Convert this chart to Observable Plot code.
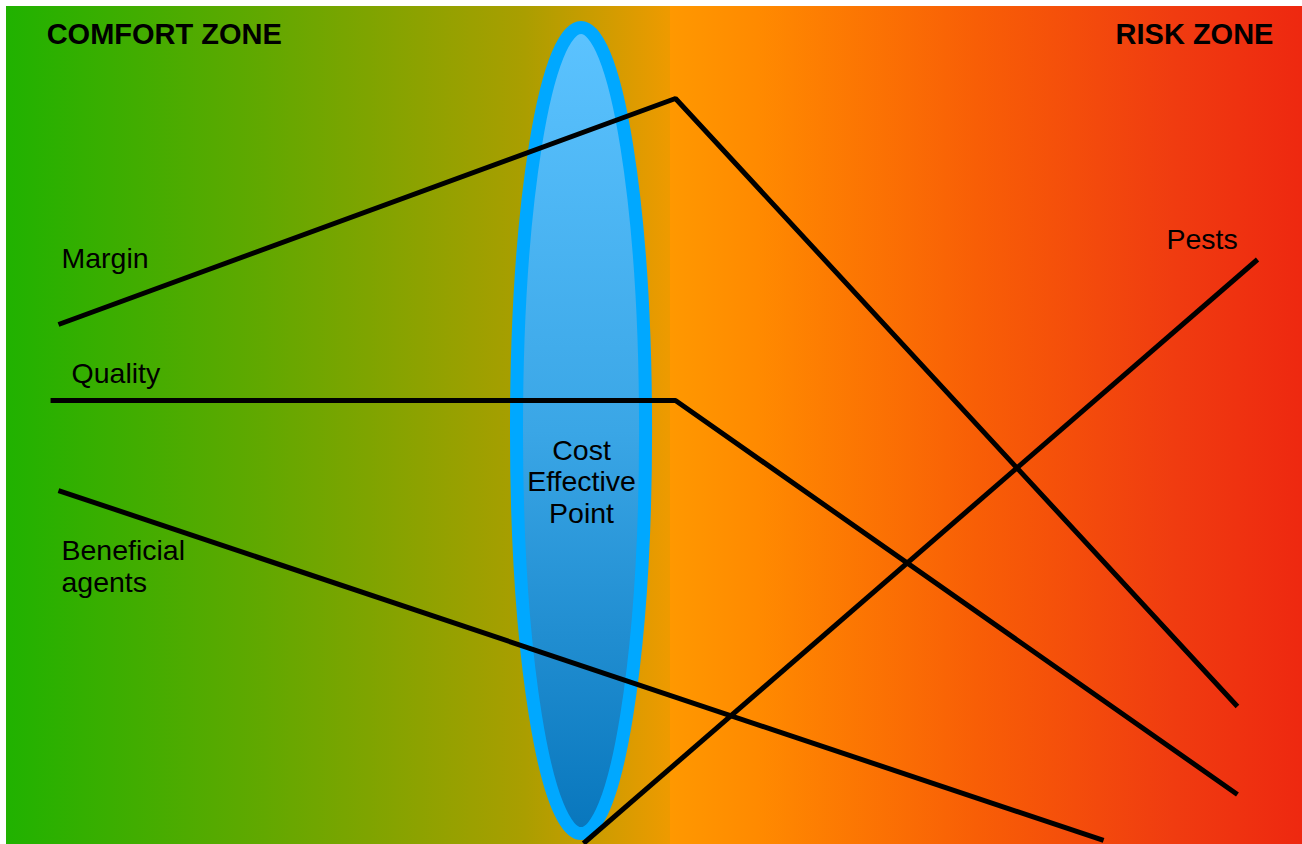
<!DOCTYPE html>
<html>
<head>
<meta charset="utf-8">
<script src="https://cdn.jsdelivr.net/npm/d3@7"></script>
<script src="https://cdn.jsdelivr.net/npm/@observablehq/plot@0.6"></script>
<style>
  html, body { margin: 0; padding: 0; background: #ffffff; }
  #chart svg { display: block; }
</style>
</head>
<body>
<div id="chart"></div>
<script>
// ---- Data (abstract units: x 0 = comfort … 100 = risk, y 0 … 100) ----
const zoneLabels = ["COMFORT ZONE", "RISK ZONE"];
const zoneLabelX = [3.1, 97.76];
const zoneLabelY = [95.47, 95.47];

const seriesNames = ["Margin", "Quality", "Beneficial agents", "Pests"];
const marginX = [4.01, 51.62, 94.98];
const marginY = [62.05, 89.02, 16.47];
const qualityX = [3.40, 51.62, 94.98];
const qualityY = [52.98, 52.98, 5.97];
const beneficialX = [4.01, 84.65];
const beneficialY = [42.24, 0.48];
const pestsX = [44.52, 96.53];
const pestsY = [0.12, 69.81];

const seriesLabels = ["Margin", "Quality", "Beneficial\nagents", "Pests"];
const seriesLabelX = [4.24, 5.02, 4.24, 89.5];
const seriesLabelY = [68.74, 55.13, 30.19, 71.12];

const pointLabel = "Cost\nEffective\nPoint";
const pointCenterX = 44.37;
const pointCenterY = 49.34;
const pointRadiusX = 4.98;
const pointRadiusY = 48.1;
const pointLabelY = 38.42;

// background gradient stops (position along x, colour)
const bgStopX = [0, 20, 40, 51.2, 51.2, 58, 75, 90, 100];
const bgStopColor = ["#20b200", "#62a800", "#aa9e00", "#ee9a00", "#ff9800", "#ff8a00", "#f85e06", "#f03c10", "#ee2810"];
// ellipse fill stops (top → bottom)
const ellipseStopColor = ["#5cc3ff", "#3aa6e6", "#0876bc"];

// ---- Build ----
const lineData = [
  ...marginX.map((x, i) => ({series: "Margin", x, y: marginY[i]})),
  ...qualityX.map((x, i) => ({series: "Quality", x, y: qualityY[i]})),
  ...beneficialX.map((x, i) => ({series: "Beneficial agents", x, y: beneficialY[i]})),
  ...pestsX.map((x, i) => ({series: "Pests", x, y: pestsY[i]}))
];
const labelData = seriesLabels.map((t, i) => ({t, x: seriesLabelX[i], y: seriesLabelY[i]}));
const zoneData = zoneLabels.map((t, i) => ({t, x: zoneLabelX[i], y: zoneLabelY[i], anchor: i === 0 ? "start" : "end"}));

const FONT = "'Liberation Sans', Arial, Helvetica, sans-serif";

function defsMark(index, scales) {
  const defs = d3.create("svg:defs");
  const bg = defs.append("linearGradient")
    .attr("id", "bgGrad")
    .attr("gradientUnits", "userSpaceOnUse")
    .attr("x1", scales.x(0)).attr("x2", scales.x(100))
    .attr("y1", 0).attr("y2", 0);
  bgStopX.forEach((p, i) => bg.append("stop").attr("offset", p + "%").attr("stop-color", bgStopColor[i]));
  const el = defs.append("linearGradient")
    .attr("id", "ellGrad")
    .attr("x1", 0).attr("x2", 0).attr("y1", 0).attr("y2", 1);
  ellipseStopColor.forEach((c, i) => el.append("stop").attr("offset", (i / (ellipseStopColor.length - 1) * 100) + "%").attr("stop-color", c));
  return defs.node();
}

function ellipseMark(index, scales) {
  const cx = scales.x(pointCenterX);
  const cy = scales.y(pointCenterY);
  const rx = Math.abs(scales.x(pointCenterX + pointRadiusX) - cx);
  const ry = Math.abs(scales.y(pointCenterY + pointRadiusY) - cy);
  const g = d3.create("svg:g");
  g.append("ellipse")
    .attr("cx", cx).attr("cy", cy).attr("rx", rx).attr("ry", ry)
    .attr("fill", "url(#ellGrad)")
    .attr("stroke", "#00a8ff")
    .attr("stroke-width", 13);
  return g.node();
}

const chart = Plot.plot({
  width: 1302,
  height: 844,
  margin: 0,
  style: {background: "transparent", fontFamily: FONT},
  x: {domain: [0, 100], range: [6, 1302], axis: null},
  y: {domain: [0, 100], range: [844, 6], axis: null},
  marks: [
    defsMark,
    Plot.rect([{x1: 0, x2: 100, y1: 0, y2: 100}], {x1: "x1", x2: "x2", y1: "y1", y2: "y2", fill: "url(#bgGrad)"}),
    ellipseMark,
    Plot.line(lineData, {x: "x", y: "y", z: "series", stroke: "#000", strokeWidth: 5, strokeLinejoin: "miter", strokeLinecap: "butt"}),
    Plot.text(labelData, {x: "x", y: "y", text: "t", textAnchor: "start", lineAnchor: "bottom", lineHeight: 1.09, fontSize: 28.5, fill: "#000", fontFamily: FONT}),
    Plot.text(zoneData.filter(d => d.anchor === "start"), {x: "x", y: "y", text: "t", textAnchor: "start", lineAnchor: "bottom", fontSize: 29, fontWeight: "bold", fill: "#000", fontFamily: FONT}),
    Plot.text(zoneData.filter(d => d.anchor === "end"), {x: "x", y: "y", text: "t", textAnchor: "end", lineAnchor: "bottom", fontSize: 29, fontWeight: "bold", fill: "#000", fontFamily: FONT}),
    Plot.text([{t: pointLabel, x: pointCenterX, y: pointLabelY}], {x: "x", y: "y", text: "t", textAnchor: "middle", lineAnchor: "bottom", lineHeight: 1.1, fontSize: 28.5, fill: "#000", fontFamily: FONT})
  ]
});
document.getElementById("chart").appendChild(chart);
</script>
</body>
</html>
